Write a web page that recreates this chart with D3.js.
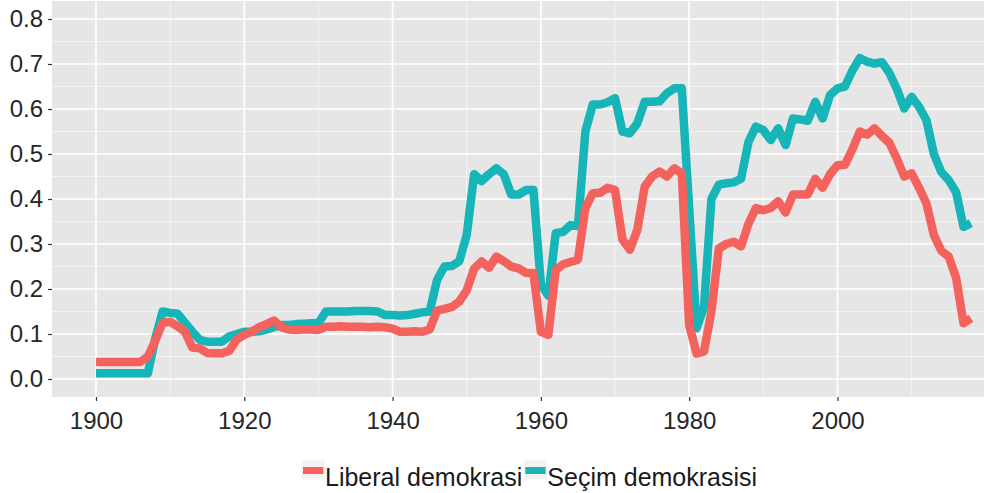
<!DOCTYPE html>
<html>
<head>
<meta charset="utf-8">
<script src="https://cdn.jsdelivr.net/npm/d3@7"></script>
<style>
  body { margin: 0; background: #fff; }
  text { font-family: "Liberation Sans", Arial, sans-serif; }
</style>
</head>
<body>
<svg id="chart" width="986" height="493"></svg>
<script>
// years 1900-2018
const years = [
  1900,1901,1902,1903,1904,1905,1906,1907,1908,1909,
  1910,1911,1912,1913,1914,1915,1916,1917,1918,1919,
  1920,1921,1922,1923,1924,1925,1926,1927,1928,1929,
  1930,1931,1932,1933,1934,1935,1936,1937,1938,1939,
  1940,1941,1942,1943,1944,1945,1946,1947,1948,1949,
  1950,1951,1952,1953,1954,1955,1956,1957,1958,1959,
  1960,1961,1962,1963,1964,1965,1966,1967,1968,1969,
  1970,1971,1972,1973,1974,1975,1976,1977,1978,1979,
  1980,1981,1982,1983,1984,1985,1986,1987,1988,1989,
  1990,1991,1992,1993,1994,1995,1996,1997,1998,1999,
  2000,2001,2002,2003,2004,2005,2006,2007,2008,2009,
  2010,2011,2012,2013,2014,2015,2016,2017,2018
];

// Liberal demokrasi
const liberal = [
  0.038,0.038,0.038,0.038,0.038,0.038,0.038,0.050,0.085,0.125,
  0.127,0.117,0.105,0.070,0.068,0.058,0.057,0.057,0.063,0.088,
  0.098,0.105,0.115,0.122,0.130,0.115,0.110,0.109,0.110,0.110,
  0.109,0.116,0.116,0.117,0.116,0.116,0.116,0.115,0.116,0.115,
  0.112,0.105,0.105,0.106,0.105,0.110,0.152,0.156,0.160,0.172,
  0.197,0.245,0.261,0.247,0.272,0.262,0.250,0.246,0.236,0.235,
  0.105,0.098,0.242,0.255,0.260,0.265,0.380,0.413,0.414,0.425,
  0.420,0.310,0.287,0.331,0.427,0.450,0.461,0.450,0.468,0.457,
  0.120,0.057,0.061,0.150,0.290,0.300,0.305,0.295,0.345,0.380,
  0.375,0.380,0.395,0.370,0.410,0.410,0.410,0.445,0.425,0.455,
  0.475,0.476,0.510,0.550,0.543,0.557,0.540,0.525,0.490,0.450,
  0.457,0.425,0.390,0.320,0.285,0.272,0.225,0.124,0.135
];

// Seçim demokrasisi
const secim = [
  0.013,0.013,0.013,0.013,0.013,0.013,0.013,0.013,0.090,0.150,
  0.147,0.145,0.125,0.105,0.087,0.083,0.083,0.083,0.095,0.100,
  0.105,0.105,0.106,0.110,0.115,0.120,0.120,0.122,0.123,0.124,
  0.124,0.150,0.150,0.150,0.150,0.151,0.151,0.151,0.150,0.142,
  0.142,0.141,0.142,0.145,0.148,0.150,0.220,0.250,0.251,0.262,
  0.320,0.455,0.440,0.455,0.468,0.455,0.410,0.410,0.420,0.420,
  0.210,0.185,0.324,0.327,0.342,0.340,0.550,0.610,0.610,0.615,
  0.624,0.550,0.546,0.568,0.616,0.616,0.617,0.635,0.646,0.646,
  0.380,0.113,0.160,0.400,0.432,0.435,0.437,0.445,0.527,0.561,
  0.553,0.531,0.557,0.520,0.579,0.577,0.574,0.616,0.579,0.631,
  0.646,0.650,0.685,0.713,0.705,0.701,0.704,0.680,0.645,0.601,
  0.627,0.605,0.575,0.500,0.460,0.442,0.415,0.338,0.346
];

const seriesNames = ["Liberal demokrasi", "Seçim demokrasisi"];
const seriesColors = ["#F3625C", "#17B4B8"];
const xTicks = [1900, 1920, 1940, 1960, 1980, 2000];
const xMinor = [1910, 1930, 1950, 1970, 1990, 2010];
const yTicks = [0.0, 0.1, 0.2, 0.3, 0.4, 0.5, 0.6, 0.7, 0.8];
const yMinor = [0.05, 0.15, 0.25, 0.35, 0.45, 0.55, 0.65, 0.75];

const svg = d3.select("#chart");
const margin = {top: 1, right: 2, bottom: 96, left: 52};
const width = +svg.attr("width") - margin.left - margin.right;
const height = +svg.attr("height") - margin.top - margin.bottom;

const g = svg.append("g")
    .attr("transform", "translate(" + margin.left + "," + margin.top + ")");

const x = d3.scaleLinear()
    .domain([1894.07, 2019.76])
    .range([0, width]);

const y = d3.scaleLinear()
    .domain([-0.04, 0.84])
    .range([height, 0]);

// panel
g.append("rect")
    .attr("width", width)
    .attr("height", height)
    .attr("fill", "#E6E6E6");

// minor grid
g.selectAll(".ygrid-minor")
    .data(yMinor)
    .enter().append("line")
    .attr("x1", 0).attr("x2", width)
    .attr("y1", d => y(d)).attr("y2", d => y(d))
    .attr("stroke", "#F5F5F5").attr("stroke-width", 0.9);
g.selectAll(".xgrid-minor")
    .data(xMinor)
    .enter().append("line")
    .attr("y1", 0).attr("y2", height)
    .attr("x1", d => x(d)).attr("x2", d => x(d))
    .attr("stroke", "#F5F5F5").attr("stroke-width", 0.9);

// major grid
g.selectAll(".ygrid")
    .data(yTicks)
    .enter().append("line")
    .attr("x1", 0).attr("x2", width)
    .attr("y1", d => y(d)).attr("y2", d => y(d))
    .attr("stroke", "#fff").attr("stroke-width", 1.7);
g.selectAll(".xgrid")
    .data(xTicks)
    .enter().append("line")
    .attr("y1", 0).attr("y2", height)
    .attr("x1", d => x(d)).attr("x2", d => x(d))
    .attr("stroke", "#fff").attr("stroke-width", 1.7);

// axes
const yAxis = g.append("g")
    .call(d3.axisLeft(y).tickValues(yTicks).tickFormat(d3.format(".1f")).tickSize(4).tickPadding(5));
const xAxis = g.append("g")
    .attr("transform", "translate(0," + height + ")")
    .call(d3.axisBottom(x).tickValues(xTicks).tickFormat(d3.format("d")).tickSize(4).tickPadding(11));
[yAxis, xAxis].forEach(a => {
    a.select(".domain").remove();
    a.selectAll(".tick line").attr("stroke", "#333").attr("stroke-width", 1.2);
    a.selectAll(".tick text").attr("fill", "#262626").style("font-size", "24px");
});

// lines
const line = d3.line()
    .x((d, i) => x(years[i]))
    .y(d => y(d));

[secim, liberal].forEach((vals, k) => {
    const idx = vals === liberal ? 0 : 1;
    g.append("path")
        .datum(vals)
        .attr("fill", "none")
        .attr("stroke", seriesColors[idx])
        .attr("stroke-width", 8.5)
        .attr("stroke-linejoin", "round")
        .attr("stroke-linecap", "butt")
        .attr("d", line);
});

// legend
const legend = svg.append("g");
let lx = 301.5;
seriesNames.forEach((name, i) => {
    legend.append("rect")
        .attr("x", lx).attr("y", 460.5)
        .attr("width", 23.3).attr("height", 19)
        .attr("fill", "#F2F2F2");
    legend.append("line")
        .attr("x1", lx + 1.5).attr("x2", lx + 21.8)
        .attr("y1", 470.5).attr("y2", 470.5)
        .attr("stroke", seriesColors[i]).attr("stroke-width", 7);
    const t = legend.append("text")
        .attr("x", lx + 23.5).attr("y", 486)
        .attr("fill", "#1a1a1a")
        .style("font-size", "25px")
        .text(name);
    lx += 23.5 + t.node().getComputedTextLength() + 1.5;
});
</script>
</body>
</html>
